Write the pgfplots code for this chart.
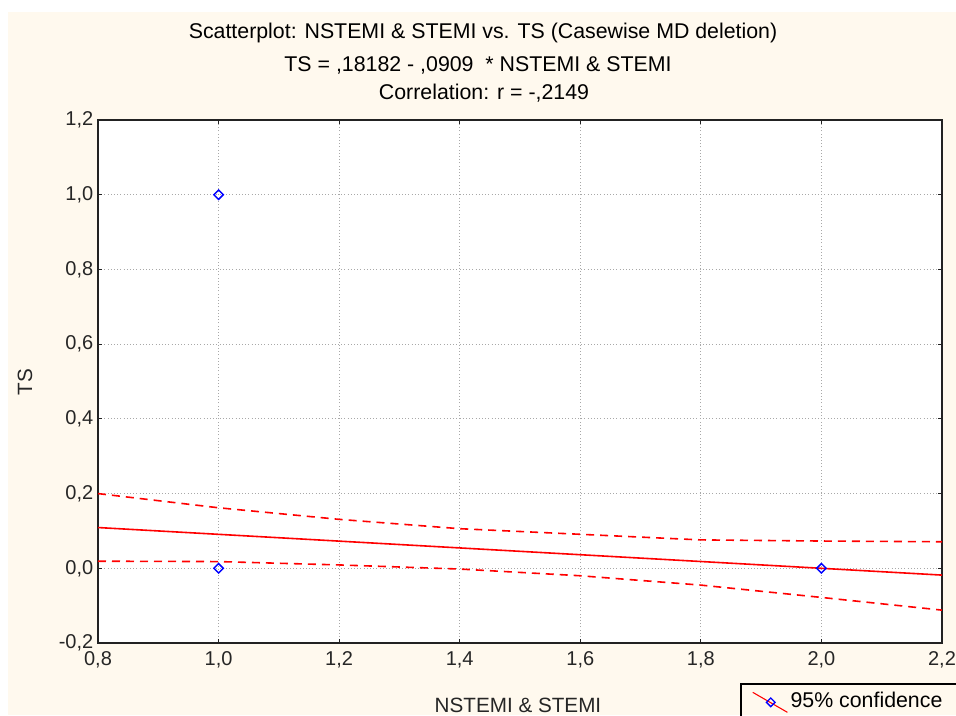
\documentclass[border=0pt]{standalone}
\usepackage{fontspec}
\setmainfont{Liberation Sans}
\usepackage{pgfplots}
\pgfplotsset{compat=1.18}
\definecolor{bgcream}{HTML}{FFF9EE}
\definecolor{axisdark}{HTML}{222222}
\definecolor{gridgray}{HTML}{A8A8A8}
\newcommand{\chartfont}{\fontsize{15}{18}\selectfont}
\newcommand{\titlefont}{\fontsize{16}{19}\selectfont}
\begin{document}
\begin{tikzpicture}[x=0.75pt,y=-0.75pt]
% page = 956 x 715 px, y counted from the top
\clip (0,0) rectangle (956,715);
\fill[white] (0,0) rectangle (956,715);
\fill[bgcream] (8,12) rectangle (956,715);
\node[font=\titlefont] at (483,33) {Scatterplot: NSTEMI \& STEMI vs. TS (Casewise MD deletion)};
\node[font=\titlefont] at (478,65) {TS = ,18182 - ,0909 \ * NSTEMI \& STEMI};
\node[font=\titlefont] at (484,93) {Correlation: r = -,2149};
\begin{axis}[
  at={(73.5pt,-482.25pt)},anchor=south west,
  scale only axis,width=633pt,height=392.25pt,
  xmin=0.8,xmax=2.2,ymin=-0.2,ymax=1.2,
  axis background/.style={fill=white},
  axis line style={axisdark,line width=1.1pt},
  xtick={0.8,1.0,1.2,1.4,1.6,1.8,2.0,2.2},
  xticklabels={{0,8},{1,0},{1,2},{1,4},{1,6},{1,8},{2,0},{2,2}},
  ytick={-0.2,0,0.2,0.4,0.6,0.8,1.0,1.2},
  yticklabels={{-0,2},{0,0},{0,2},{0,4},{0,6},{0,8},{1,0},{1,2}},
  tick align=inside,major tick length=3pt,
  tick style={axisdark,line width=0.8pt},
  grid=major,major grid style={gridgray,dotted,line width=0.6pt},
  tick label style={font=\chartfont,text=black!85},
  xticklabel style={yshift=-3pt},
  xlabel={NSTEMI \& STEMI},ylabel={TS},
  label style={font=\fontsize{15.5}{18}\selectfont,text=black!85},
  xlabel style={at={(axis description cs:0.4976,-0.1185)},anchor=center},
  ylabel style={at={(axis description cs:-0.0865,0.499)},anchor=center},
  legend style={at={(axis description cs:0.7685,-0.0822)},anchor=north west,
    draw=none,fill=none,font=\titlefont,
    inner xsep=4pt,inner ysep=2pt},
  clip=true,
]
% regression line
\addplot[red,line width=1.2pt,forget plot] coordinates {(0.8,0.1091) (2.2,-0.0182)};
% 95% confidence bands
\addplot[red,line width=1.2pt,dash pattern=on 6pt off 4.5pt,forget plot] coordinates {
  (0.8,0.200) (0.9,0.181) (1.0,0.162) (1.2,0.131) (1.4,0.106)
  (1.6,0.091) (1.8,0.076) (2.0,0.073) (2.2,0.071)};
\addplot[red,line width=1.2pt,dash pattern=on 6pt off 4.5pt,forget plot] coordinates {
  (0.8,0.019) (1.0,0.018) (1.2,0.009) (1.4,-0.002)
  (1.6,-0.020) (1.8,-0.045) (2.0,-0.078) (2.2,-0.112)};
% observations
\addplot[only marks,mark=square,mark size=2.5pt,blue,
  mark options={rotate=45,line width=1.1pt,fill=white},forget plot]
  coordinates {(1,1) (1,0) (2,0)};
\addlegendimage{legend image code/.code={
  \draw[red,line width=0.8pt] (-4pt,6pt) -- (22pt,-9pt);
  \draw[blue,line width=1pt,fill=white] plot[mark=square,mark size=2.3pt,mark options={rotate=45}] coordinates {(9.5pt,-1.5pt)};}}
\addlegendentry{95\% confidence}
\end{axis}
% legend frame, running past the page edge as in the reference
\draw[black,line width=0.8pt] (741,684) rectangle (975,735);
\end{tikzpicture}
\end{document}
